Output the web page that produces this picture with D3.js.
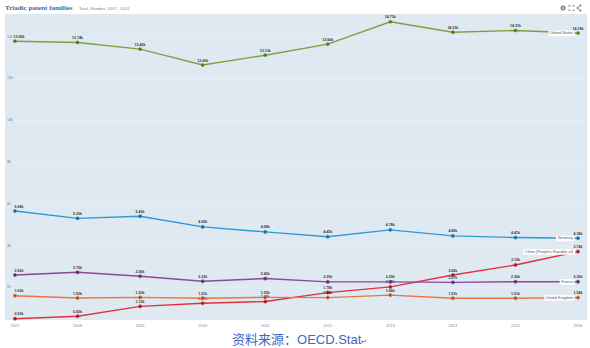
<!DOCTYPE html>
<html><head><meta charset="utf-8">
<script src="https://cdn.jsdelivr.net/npm/d3@7"></script>
<style>body{margin:0;background:#fff}svg{display:block}</style>
</head><body>
<svg id="c" width="590" height="348"></svg>
<script>
const years = [2007,2008,2009,2010,2011,2012,2013,2014,2015,2016];
const usValues = [13.80,13.74,13.42,12.66,13.13,13.66,14.73,14.23,14.31,14.19];
const deValues = [5.68,5.33,5.43,4.92,4.68,4.45,4.78,4.49,4.41,4.38];
const cnValues = [0.53,0.65,1.12,1.27,1.35,1.78,2.05,2.62,3.10,3.74];
const frValues = [2.62,2.75,2.56,2.32,2.45,2.29,2.29,2.27,2.30,2.30];
const ukValues = [1.63,1.52,1.55,1.51,1.55,1.54,1.66,1.51,1.51,1.54];
const seriesNames = ["United States","Germany","China (People's Republic of)","France","United Kingdom"];
const seriesColors = ["#7ba23f","#2d9ad6","#e0313f","#8d479d","#e8763e"];
const yTicks = [2,4,6,8,10,12,14];
const yTickLabels = ["2k","4k","6k","8k","10k","12k","14k"];

const series = [usValues,deValues,cnValues,frValues,ukValues].map((v,i)=>({name:seriesNames[i],color:seriesColors[i],values:v}));

const svg = d3.select("#c");
const plot = {x0:5,x1:587,y0:14,y1:320};
const x = d3.scalePoint().domain(years).range([15,578]);
const y = d3.scaleLinear().domain([0,14]).range([329.8,37]);

// title
svg.append("text").attr("x",5).attr("y",10).attr("font-family","Liberation Serif, DejaVu Serif, serif")
  .attr("font-weight","bold").attr("font-size",7).attr("fill","#3d6c9c").text("Triadic patent families");
svg.append("text").attr("x",79).attr("y",9.5).attr("font-family","Liberation Sans, sans-serif")
  .attr("font-size",4.2).attr("fill","#888").text("Total, Number, 2007 - 2016");

// icons
const ic = svg.append("g").attr("fill","none").attr("stroke","#8a8a8a").attr("stroke-width",0.9);
ic.append("circle").attr("cx",563).attr("cy",8).attr("r",2.2).attr("fill","#8a8a8a");
ic.append("circle").attr("cx",563).attr("cy",8).attr("r",0.8).attr("fill","#fff").attr("stroke","none");
ic.append("path").attr("d","M569,5.5 l1.5,0 M569,5.5 l0,1.5 M574,5.5 l-1.5,0 M574,5.5 l0,1.5 M569,10.5 l1.5,0 M569,10.5 l0,-1.5 M574,10.5 l-1.5,0 M574,10.5 l0,-1.5");
ic.append("path").attr("d","M580.5,5.5 L577.5,8 L580.5,10.5");
ic.append("circle").attr("cx",580.5).attr("cy",5.5).attr("r",0.7).attr("fill","#8a8a8a");
ic.append("circle").attr("cx",577.5).attr("cy",8).attr("r",0.7).attr("fill","#8a8a8a");
ic.append("circle").attr("cx",580.5).attr("cy",10.5).attr("r",0.7).attr("fill","#8a8a8a");

// plot background
svg.append("rect").attr("x",plot.x0).attr("y",plot.y0).attr("width",plot.x1-plot.x0).attr("height",plot.y1-plot.y0).attr("fill","#dfe9f1");

// grid
const grid = svg.append("g");
yTicks.forEach((t,i)=>{
  grid.append("line").attr("x1",plot.x0).attr("x2",plot.x1).attr("y1",y(t)).attr("y2",y(t)).attr("stroke","#eaf1f6").attr("stroke-width",0.8);
  grid.append("text").attr("x",7).attr("y",y(t)+0.5).attr("font-family","Liberation Sans, sans-serif").attr("font-size",3.6).attr("fill","#777").text(yTickLabels[i]);
});

// x labels
svg.append("g").selectAll("text").data(years).join("text")
  .attr("x",d=>x(d)).attr("y",327).attr("text-anchor","middle")
  .attr("font-family","Liberation Sans, sans-serif").attr("font-size",4).attr("fill","#888").text(d=>d);

const line = d3.line().x((d,i)=>x(years[i])).y(d=>y(d));

series.forEach(s=>{
  const g = svg.append("g");
  g.append("path").attr("d",line(s.values)).attr("fill","none").attr("stroke",s.color).attr("stroke-width",1.4);
  g.selectAll("circle").data(s.values).join("circle")
    .attr("cx",(d,i)=>x(years[i])).attr("cy",d=>y(d)).attr("r",1.6)
    .attr("fill",d3.color(s.color).darker(1.2)).attr("stroke",s.color).attr("stroke-width",0.6);
  g.selectAll("text").data(s.values).join("text")
    .attr("x",(d,i)=>x(years[i])+(i===0?4:0)).attr("y",d=>y(d)-3.5).attr("text-anchor","middle")
    .attr("font-family","Liberation Sans, sans-serif").attr("font-size",3.6).attr("font-weight","bold").attr("fill","#333")
    .text(d=>d.toFixed(2)+"k");
  // series label
  const last = s.values[s.values.length-1];
  const lbl = g.append("g");
  const tx = lbl.append("text").attr("x",573).attr("y",y(last)+1.3).attr("text-anchor","end")
    .attr("font-family","Liberation Sans, sans-serif").attr("font-size",3.8).attr("fill","#555").text(s.name);
  const bb = tx.node().getBBox();
  lbl.insert("rect","text").attr("x",bb.x-1.5).attr("y",bb.y-0.8).attr("width",bb.width+3).attr("height",bb.height+1.6).attr("fill","#fff");
});

// footer
const ft = svg.append("text").attr("x",232).attr("y",344).attr("fill","#4366bd").attr("font-size",13);
ft.append("tspan").attr("font-family","Noto Sans CJK SC, sans-serif").text("资料来源：");
ft.append("tspan").attr("font-family","Liberation Sans, Arial, sans-serif").text("OECD.Stat");
ft.append("tspan").attr("font-family","Liberation Sans, sans-serif").attr("font-size",7).attr("fill","#666").text("↵");
</script>
</body></html>
